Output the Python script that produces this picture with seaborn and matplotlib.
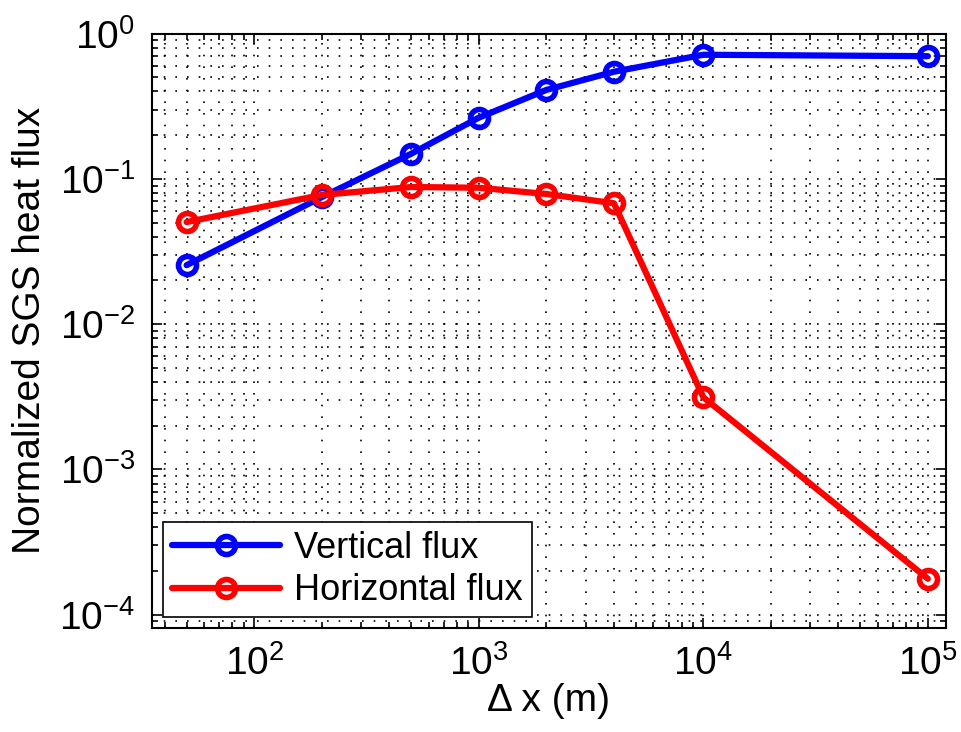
import numpy as np
import pandas as pd
import seaborn as sns
import matplotlib.pyplot as plt
from matplotlib.ticker import LogLocator, NullFormatter

# grid spacing (m)
DX = [50, 200, 500, 1000, 2000, 4000, 10000, 100000]

VERTICAL = [0.0255, 0.075, 0.149, 0.264, 0.41, 0.547, 0.716, 0.70]
HORIZONTAL = [0.0505, 0.0776, 0.088, 0.087, 0.0788, 0.068, 0.00314, 0.000177]

SERIES = {
    'Vertical flux': 'blue',
    'Horizontal flux': 'red',
}

sns.set_style("ticks")
plt.rcParams['font.family'] = ['Liberation Sans', 'DejaVu Sans']
plt.rcParams['mathtext.fontset'] = 'custom'
plt.rcParams['mathtext.rm'] = 'Liberation Sans'
plt.rcParams['mathtext.it'] = 'Liberation Sans'
for k in ['text.color', 'axes.labelcolor', 'xtick.color', 'ytick.color']:
    plt.rcParams[k] = 'black'

df = pd.concat([
    pd.DataFrame({'dx': DX, 'flux': VERTICAL, 'kind': 'Vertical flux'}),
    pd.DataFrame({'dx': DX, 'flux': HORIZONTAL, 'kind': 'Horizontal flux'}),
])

fig = plt.figure(figsize=(9.61, 7.32), dpi=100)
ax = fig.add_axes([0.158, 0.142, 0.826, 0.812])

sns.lineplot(data=df, x='dx', y='flux', hue='kind', palette=SERIES,
             hue_order=list(SERIES), marker='o', markersize=13,
             markerfacecolor='none', markeredgewidth=4, linewidth=4.5,
             sort=False, ax=ax)

# seaborn draws white marker edges by default -> use the line colour
for ln in ax.lines:
    ln.set_markeredgecolor(ln.get_color())

ax.set_xscale('log')
ax.set_yscale('log')
ax.set_xlim(35, 1.2e5)
ax.set_ylim(8.1e-5, 1)

ax.xaxis.set_major_locator(LogLocator(base=10, numticks=10))
ax.yaxis.set_major_locator(LogLocator(base=10, numticks=10))
ax.xaxis.set_minor_locator(LogLocator(base=10, subs=np.arange(2, 10), numticks=20))
ax.yaxis.set_minor_locator(LogLocator(base=10, subs=np.arange(2, 10), numticks=20))
ax.xaxis.set_minor_formatter(NullFormatter())
ax.yaxis.set_minor_formatter(NullFormatter())

ax.grid(True, which='both', color='black', linestyle=(0, (1, 6)), linewidth=1.2)
ax.tick_params(which='both', direction='in', top=True, right=True,
               labelsize=28, width=1.2, color='black', labelcolor='black')
ax.tick_params(which='major', length=7, pad=12)
ax.tick_params(which='minor', length=4)
for s in ax.spines.values():
    s.set_linewidth(1.5)
    s.set_color('black')

ax.set_xlabel('Δ x (m)', fontsize=28, labelpad=0, color='black')
ax.set_ylabel('Normalized SGS heat flux', fontsize=28, labelpad=8, color='black')

leg = ax.legend(loc='lower left', fontsize=26, frameon=True, fancybox=False,
                edgecolor='black', framealpha=1, borderpad=0.25,
                handlelength=3.0, handletextpad=0.4, labelspacing=0.2,
                borderaxespad=0.3)
leg.get_frame().set_linewidth(1.2)
for h in leg.get_lines():
    h.set_markeredgecolor(h.get_color())
    h.set_markerfacecolor('none')
for t in leg.get_texts():
    t.set_color('black')

fig.savefig('out.png', dpi=100)
